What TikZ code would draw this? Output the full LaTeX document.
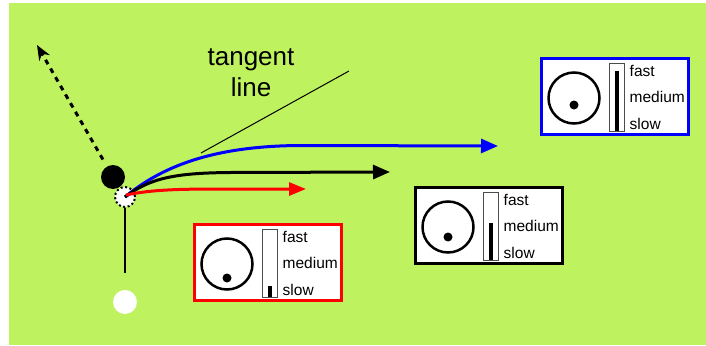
\documentclass[tikz,border=0pt]{standalone}
\usepackage{fontspec}
\setmainfont{Liberation Sans}
\usetikzlibrary{arrows.meta}
\definecolor{bggreen}{RGB}{191,242,95}
\definecolor{myblue}{RGB}{0,0,255}
\definecolor{myred}{RGB}{255,0,0}
\tikzset{
  bigtip/.style={-{Triangle[length=17pt,width=14pt]}},
  curve/.style={line width=3pt},
  boxframe/.style={draw=#1, line width=3pt, fill=white, minimum width=147pt, minimum height=76pt, inner sep=0pt},
  dial/.style={circle, draw, line width=2.5pt, minimum size=51pt, inner sep=0pt},
  dialdot/.style={circle, fill=black, minimum size=9pt, inner sep=0pt},
  bartxt/.style={anchor=base west, inner sep=0pt, font=\fontsize{15.5}{18}\selectfont},
  bigtxt/.style={anchor=base, inner sep=0pt, font=\fontsize{26}{30}\selectfont},
}
\newcommand\speedbox[6]{%
  \begin{scope}[shift={(#2,#3)}]
    \node[boxframe=#4] (#1) at (75,39.5) {};
    \node[dial] (#1c) at (34,41) {};
    \node[dialdot] (#1d) at (34,#5) {};
    \draw[draw=black!70, line width=0.8pt] (69,6) rectangle (84,74);
    \fill[black] (74.5,#6) rectangle (79,73.5);
    \node[bartxt] (#1f) at (89.5,19) {fast};
    \node[bartxt] (#1m) at (89.5,45) {medium};
    \node[bartxt] (#1s) at (89.5,72) {slow};
  \end{scope}}
\begin{document}
\begin{tikzpicture}[x=1pt,y=-1pt]
\useasboundingbox (0,0) rectangle (706,345);
\fill[bggreen] (9,3) rectangle (706,345);
% tangent label and line
\node[bigtxt] (t1) at (251,65) {tangent};
\node[bigtxt] (t2) at (251,96) {line};
\coordinate (ta) at (201,153);
\coordinate (tb) at (349,71);
\draw[line width=1pt] (ta) -- (tb);
% black ball and dashed trajectory
\node[circle, fill=black, minimum size=24pt, inner sep=0pt] (bd) at (113,177) {};
\coordinate (dtip) at (37,45);
\draw[line width=3pt, dash pattern=on 5pt off 5pt, -{Stealth[length=15pt,width=12pt]}, shorten <=8pt] (bd) -- (dtip);
% white ball (dotted) - pivot
\node[circle, fill=white, draw=black, line width=2pt, dash pattern=on 2pt off 2.5pt, minimum size=20pt, inner sep=0pt] (pv) at (125,197) {};
% white cue ball
\node[circle, fill=white, minimum size=24pt, inner sep=0pt] (wb) at (125,302) {};
\coordinate (vl) at (125,273);
\draw[line width=2.5pt] (pv.south) -- (vl);
% trajectories
\coordinate (be) at (498,146);
\coordinate (ke) at (390,172);
\coordinate (re) at (306,189);
\draw[curve, myblue, bigtip] (pv.center) .. controls (160,168) and (210,146) .. (300,145.5) -- (be);
\draw[curve, black, bigtip] (pv.center) .. controls (150,178) and (175,173) .. (230,172.5) -- (ke);
\draw[curve, myred, -{Triangle[length=17pt,width=13pt]}] (126,195) .. controls (150,190) and (175,189) .. (220,189) -- (re);
% speed boxes
\speedbox{rb}{193}{223}{myred}{55}{63}
\speedbox{kb}{414}{186}{black}{51}{37}
\speedbox{ub}{540}{57}{myblue}{48}{14}
\end{tikzpicture}
\end{document}
